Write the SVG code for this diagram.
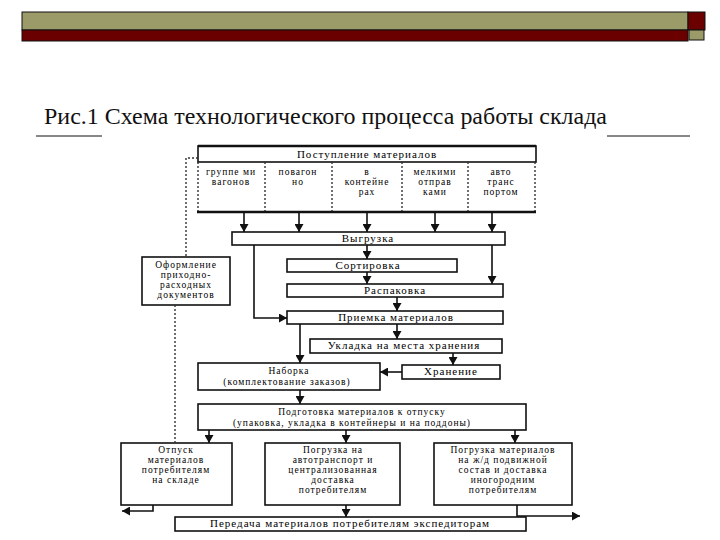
<svg xmlns="http://www.w3.org/2000/svg" width="720" height="540" viewBox="0 0 720 540">
<style>
.box{fill:#fff;stroke:#111;stroke-width:1.6}
.t{font-family:"Liberation Serif","DejaVu Serif",serif;font-size:11px;letter-spacing:1px;fill:#000;text-anchor:middle}
.m{font-family:"Liberation Serif","DejaVu Serif",serif;font-size:9.5px;letter-spacing:1px;fill:#000;text-anchor:middle}
.c{fill:none;stroke:#111;stroke-width:1.6}
.d{fill:none;stroke:#333;stroke-width:1.4;stroke-dasharray:2,2}
.title{font-family:"Liberation Serif","Times New Roman",serif;font-size:23px;fill:#111}
</style>
<defs>
<marker id="ah" markerUnits="userSpaceOnUse" markerWidth="9" markerHeight="9" refX="8" refY="4.5" orient="auto">
<path d="M0,0 L8,4.5 L0,9 z" fill="#111"/>
</marker>
</defs>
<rect width="720" height="540" fill="#fff"/>
<g id="header">
<rect x="22" y="12" width="666" height="18" fill="#9b9b6a" stroke="#111" stroke-width="1"/>
<rect x="22" y="30" width="666" height="11" fill="#6b0000" stroke="#111" stroke-width="1"/>
<rect x="688" y="12" width="17" height="18" fill="#6b0000" stroke="#111" stroke-width="1"/>
<rect x="689" y="30" width="15" height="10" fill="#9b9b6a" stroke="#111" stroke-width="1"/>
</g>
<g id="title">
<text class="title" x="44" y="124" textLength="563" lengthAdjust="spacingAndGlyphs">Рис.1 Схема технологического процесса работы склада</text>
<line x1="36" y1="136" x2="102" y2="136" stroke="#111" stroke-width="1"/>
<line x1="607" y1="136" x2="690" y2="136" stroke="#111" stroke-width="1"/>
</g>
<g id="postuplenie">
<rect class="box" x="198" y="146" width="338" height="16"/>
<line x1="198" y1="146" x2="536" y2="146" stroke="#111" stroke-width="2.5"/>
<text class="t" x="367" y="158">Поступление материалов</text>
</g>
<g id="cells">
<line class="d" x1="198" y1="162" x2="198" y2="212"/>
<line class="d" x1="265" y1="162" x2="265" y2="212"/>
<line class="d" x1="332" y1="162" x2="332" y2="212"/>
<line class="d" x1="402" y1="162" x2="402" y2="212"/>
<line class="d" x1="468" y1="162" x2="468" y2="212"/>
<line class="d" x1="535" y1="162" x2="535" y2="212"/>
<line x1="197" y1="212" x2="536" y2="212" stroke="#111" stroke-width="2.5"/>
<text class="m" x="231" y="175">группе ми</text>
<text class="m" x="231" y="185">вагонов</text>
<text class="m" x="298" y="175">повагон</text>
<text class="m" x="298" y="185">но</text>
<text class="m" x="367" y="175">в</text>
<text class="m" x="367" y="185">контейне</text>
<text class="m" x="367" y="195">рах</text>
<text class="m" x="435" y="175">мелкими</text>
<text class="m" x="435" y="185">отправ</text>
<text class="m" x="435" y="195">ками</text>
<text class="m" x="501" y="175">авто</text>
<text class="m" x="501" y="185">транс</text>
<text class="m" x="501" y="195">портом</text>
</g>
<g id="vygruzka"><rect class="box" x="232" y="232" width="273" height="13"/><text class="t" x="368" y="242">Выгрузка</text></g>
<g id="oformlenie"><rect class="box" x="142" y="257" width="88" height="48"/>
<text class="m" x="186" y="268">Оформление</text><text class="m" x="186" y="278">приходно-</text><text class="m" x="186" y="288">расходных</text><text class="m" x="186" y="298">документов</text></g>
<g id="sortirovka"><rect class="box" x="287" y="259" width="170" height="13"/><text class="t" x="368" y="269">Сортировка</text></g>
<g id="raspakovka"><rect class="box" x="287" y="284" width="216" height="13"/><text class="t" x="395" y="294">Распаковка</text></g>
<g id="priemka"><rect class="box" x="287" y="311" width="216" height="13"/><text class="t" x="396" y="321">Приемка материалов</text></g>
<g id="ukladka"><rect class="box" x="310" y="339" width="192" height="14"/><text class="t" x="404" y="349">Укладка на места хранения</text></g>
<g id="naborka"><rect class="box" x="198" y="363" width="182" height="27"/><text class="m" x="289" y="374">Наборка</text><text class="m" x="287" y="385">(комплектование заказов)</text></g>
<g id="hranenie"><rect class="box" x="402" y="365" width="98" height="14"/><text class="t" x="451" y="375">Хранение</text></g>
<g id="podgotovka"><rect class="box" x="198" y="404" width="328" height="26"/><text class="m" x="362" y="415">Подготовка материалов к отпуску</text><text class="m" x="352" y="426">(упаковка, укладка в контейнеры и на поддоны)</text></g>
<g id="otpusk"><rect class="box" x="121" y="443" width="111" height="62"/>
<text class="m" x="176" y="453">Отпуск</text><text class="m" x="176" y="463">материалов</text><text class="m" x="176" y="473">потребителям</text><text class="m" x="176" y="483">на складе</text></g>
<g id="pogruzka-avto"><rect class="box" x="265" y="443" width="135" height="62"/>
<text class="m" x="333" y="453">Погрузка на</text><text class="m" x="333" y="463">автотранспорт и</text><text class="m" x="333" y="473">централизованная</text><text class="m" x="333" y="483">доставка</text><text class="m" x="333" y="493">потребителям</text></g>
<g id="pogruzka-zd"><rect class="box" x="434" y="443" width="138" height="62"/>
<text class="m" x="503" y="453">Погрузка материалов</text><text class="m" x="503" y="463">на ж/д подвижной</text><text class="m" x="503" y="473">состав и доставка</text><text class="m" x="503" y="483">иногородним</text><text class="m" x="503" y="493">потребителям</text></g>
<g id="peredacha"><rect class="box" x="175" y="517" width="351" height="14"/><text class="t" x="350" y="527">Передача материалов потребителям экспедиторам</text></g>
<g id="connectors">
<line class="c" x1="244" y1="212" x2="244" y2="232" marker-end="url(#ah)"/>
<line class="c" x1="299" y1="212" x2="299" y2="232" marker-end="url(#ah)"/>
<line class="c" x1="367" y1="212" x2="367" y2="232" marker-end="url(#ah)"/>
<line class="c" x1="435" y1="212" x2="435" y2="232" marker-end="url(#ah)"/>
<line class="c" x1="492" y1="212" x2="492" y2="232" marker-end="url(#ah)"/>
<line class="c" x1="367" y1="245" x2="367" y2="259" marker-end="url(#ah)"/>
<line class="c" x1="367" y1="272" x2="367" y2="284" marker-end="url(#ah)"/>
<line class="c" x1="492" y1="245" x2="492" y2="284" marker-end="url(#ah)"/>
<line class="c" x1="397" y1="297" x2="397" y2="311" marker-end="url(#ah)"/>
<path class="c" d="M254,245 V318 H287" marker-end="url(#ah)"/>
<line class="c" x1="397" y1="324" x2="397" y2="339" marker-end="url(#ah)"/>
<line class="c" x1="300" y1="324" x2="300" y2="363" marker-end="url(#ah)"/>
<line class="c" x1="453" y1="353" x2="453" y2="365" marker-end="url(#ah)"/>
<line class="c" x1="402" y1="372" x2="380" y2="372" marker-end="url(#ah)"/>
<line class="c" x1="300" y1="390" x2="300" y2="404" marker-end="url(#ah)"/>
<line class="c" x1="209" y1="430" x2="209" y2="443" marker-end="url(#ah)"/>
<line class="c" x1="346" y1="430" x2="346" y2="443" marker-end="url(#ah)"/>
<line class="c" x1="515" y1="430" x2="515" y2="443" marker-end="url(#ah)"/>
<line class="c" x1="346" y1="505" x2="346" y2="517" marker-end="url(#ah)"/>
<path class="c" d="M153,505 V511 H122" marker-end="url(#ah)"/>
<path class="c" d="M517,505 V516 H580" marker-end="url(#ah)"/>
<path class="d" d="M198,158 H186 V257"/>
<path class="d" d="M175,305 V443"/>
</g>
</svg>
